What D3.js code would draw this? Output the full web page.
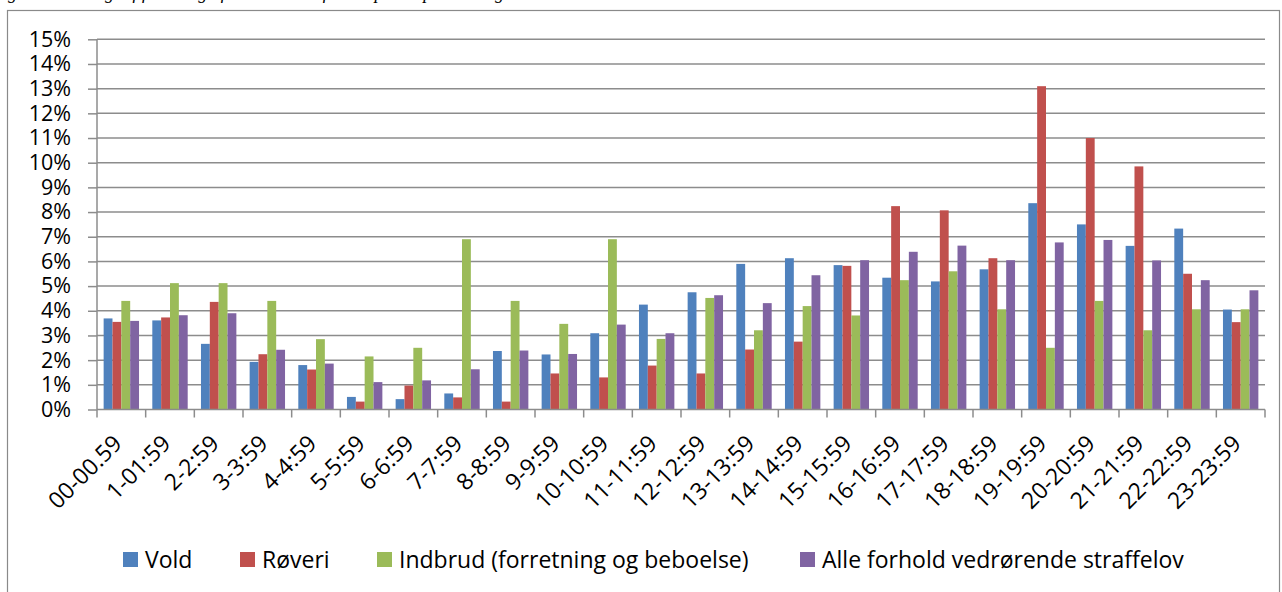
<!DOCTYPE html>
<html>
<head>
<meta charset="utf-8">
<script src="https://cdn.jsdelivr.net/npm/d3@7"></script>
<style>
  body { margin: 0; background: #fff; }
  svg { display: block; }
  text { font-family: "Open Sans", "Noto Sans", sans-serif; fill: #000; }
</style>
</head>
<body>
<div id="chart"></div>
<script>
var categories = ["00-00.59", "1-01:59", "2-2:59", "3-3:59", "4-4:59", "5-5:59", "6-6:59", "7-7:59",
    "8-8:59", "9-9:59", "10-10:59", "11-11:59", "12-12:59", "13-13:59", "14-14:59", "15-15:59",
    "16-16:59", "17-17:59", "18-18:59", "19-19:59", "20-20:59", "21-21:59", "22-22:59", "23-23:59"];

var vold    = [3.69, 3.61, 2.66, 1.93, 1.80, 0.51, 0.42, 0.65, 2.37, 2.23, 3.09, 4.25,
               4.75, 5.90, 6.13, 5.85, 5.34, 5.19, 5.68, 8.36, 7.50, 6.63, 7.33, 4.05];
var roveri  = [3.55, 3.73, 4.36, 2.24, 1.62, 0.32, 0.97, 0.49, 0.32, 1.46, 1.30, 1.78,
               1.46, 2.43, 2.75, 5.82, 8.24, 8.07, 6.13, 13.10, 11.00, 9.85, 5.50, 3.54];
var indbrud = [4.40, 5.12, 5.12, 4.40, 2.85, 2.15, 2.50, 6.90, 4.40, 3.47, 6.90, 2.86,
               4.52, 3.21, 4.19, 3.81, 5.24, 5.60, 4.06, 2.50, 4.40, 3.21, 4.06, 4.06];
var alle    = [3.59, 3.82, 3.90, 2.42, 1.86, 1.11, 1.18, 1.63, 2.39, 2.25, 3.44, 3.09,
               4.63, 4.31, 5.44, 6.05, 6.39, 6.64, 6.05, 6.77, 6.87, 6.04, 5.24, 4.83];

var seriesNames = ["Vold", "Røveri", "Indbrud (forretning og beboelse)", "Alle forhold vedrørende straffelov"];
var seriesColors = ["#4F81BD", "#C0504D", "#9BBB59", "#8064A2"];
var yTicks = [0, 1, 2, 3, 4, 5, 6, 7, 8, 9, 10, 11, 12, 13, 14, 15];

var caption = "Figur 4: Oversigt af fordeling af anmeldelser fordelt på tidspunkt i døgnet";

var series = [vold, roveri, indbrud, alle];

var width = 1282, height = 592;
var plot = {left: 97, right: 1265, top: 39.3, bottom: 409.5};

var svg = d3.select("#chart").append("svg")
    .attr("width", width)
    .attr("height", height);

// caption of the figure, cut by the top edge
svg.append("text")
    .attr("x", -8)
    .attr("y", -1)
    .style("font-family", "'Liberation Serif', serif")
    .style("font-style", "italic")
    .style("font-size", "18px")
    .text(caption);

// outer chart frame
svg.append("rect")
    .attr("x", 7.5)
    .attr("y", 10.5)
    .attr("width", 1272)
    .attr("height", 600)
    .attr("fill", "none")
    .attr("stroke", "#8a8a8a")
    .attr("stroke-width", 1.2);

var x0 = d3.scaleBand()
    .domain(categories)
    .range([plot.left, plot.right])
    .padding(0);

var x1 = d3.scaleBand()
    .domain(d3.range(series.length))
    .range([0, x0.bandwidth()])
    .paddingInner(0)
    .paddingOuter(0.75);

var y = d3.scaleLinear()
    .domain([0, 15])
    .range([plot.bottom, plot.top]);

// gridlines
svg.append("g")
    .selectAll("line")
    .data(yTicks.filter(function (d) { return d > 0; }))
    .enter().append("line")
    .attr("x1", plot.left)
    .attr("x2", plot.right)
    .attr("y1", function (d) { return y(d); })
    .attr("y2", function (d) { return y(d); })
    .attr("stroke", "#8c8c8c")
    .attr("stroke-width", 1.5);

// y axis
var yAxis = svg.append("g")
    .attr("transform", "translate(" + plot.left + ",0)")
    .call(d3.axisLeft(y)
        .tickValues(yTicks)
        .tickSize(9)
        .tickPadding(17)
        .tickFormat(function (d) { return d + "%"; }));
yAxis.selectAll("path, line").attr("stroke", "#8c8c8c").attr("stroke-width", 1.5);
yAxis.select(".domain").attr("d", "M0," + plot.top + "V" + plot.bottom);
yAxis.selectAll("text")
    .style("font-family", "'Open Sans', sans-serif")
    .style("font-size", "21.5px")
    .attr("fill", "#000");

// bars
var groups = svg.append("g")
    .selectAll("g")
    .data(categories)
    .enter().append("g")
    .attr("transform", function (d) { return "translate(" + x0(d) + ",0)"; });

groups.selectAll("rect")
    .data(function (d, i) {
        return series.map(function (s, k) { return {k: k, v: s[i]}; });
    })
    .enter().append("rect")
    .attr("x", function (d) { return x1(d.k); })
    .attr("width", x1.bandwidth())
    .attr("y", function (d) { return y(d.v); })
    .attr("height", function (d) { return y(0) - y(d.v); })
    .attr("fill", function (d) { return seriesColors[d.k]; });

// x axis
var xAxis = svg.append("g")
    .attr("transform", "translate(0," + plot.bottom + ")");
xAxis.append("line")
    .attr("x1", plot.left)
    .attr("x2", plot.right)
    .attr("stroke", "#8c8c8c")
    .attr("stroke-width", 1.5);
xAxis.selectAll(".tk")
    .data(categories.concat(["end"]))
    .enter().append("line")
    .attr("class", "tk")
    .attr("x1", function (d, i) { return plot.left + i * x0.step(); })
    .attr("x2", function (d, i) { return plot.left + i * x0.step(); })
    .attr("y1", 0)
    .attr("y2", 8)
    .attr("stroke", "#8c8c8c")
    .attr("stroke-width", 1.5);

svg.append("g")
    .selectAll("text")
    .data(categories)
    .enter().append("text")
    .attr("transform", function (d) {
        return "translate(" + (x0(d) + x0.bandwidth() / 2 + 2) + ",445) rotate(-45)";
    })
    .attr("text-anchor", "end")
    .style("font-size", "23px")
    .text(function (d) { return d; });

// legend
var legendX = [123, 240, 377, 800];
var legend = svg.append("g")
    .selectAll("g")
    .data(seriesNames)
    .enter().append("g")
    .attr("transform", function (d, i) { return "translate(" + legendX[i] + ",552)"; });

legend.append("rect")
    .attr("width", 15)
    .attr("height", 15)
    .attr("fill", function (d, i) { return seriesColors[i]; });

legend.append("text")
    .attr("x", 22)
    .attr("y", 15.5)
    .style("font-size", "23px")
    .text(function (d) { return d; });
</script>
</body>
</html>
